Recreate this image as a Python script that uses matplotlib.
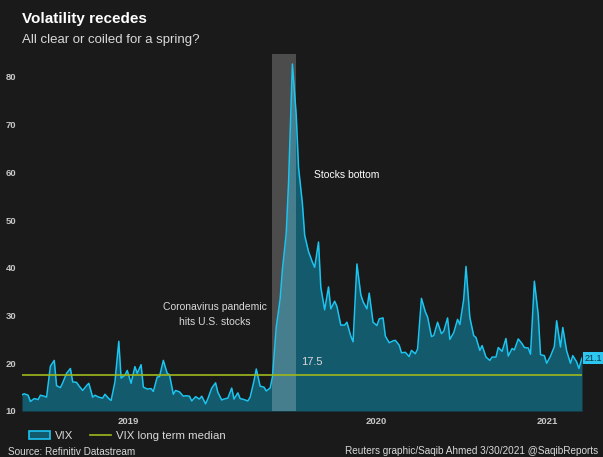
import matplotlib
matplotlib.use('Agg')
import matplotlib.pyplot as plt
from matplotlib.patches import Patch
from matplotlib.lines import Line2D
import numpy as np
import pandas as pd

#
# VIX closes read off the chart, sampled every third business day
# from 1 Apr 2019, plus the last reading on 30 Mar 2021
#
vix_2019 = [13.4, 13.6, 13.3, 12.0, 12.6, 12.4, 13.3, 13.1,          # Apr
            12.9, 19.4, 20.6, 15.3, 14.9, 15.9, 17.9,                # May
            18.9, 16.1, 16.0, 15.3, 14.3, 15.3, 15.8,                # Jun
            12.9, 13.3, 12.9, 12.7, 13.5, 12.6, 12.2, 16.1,          # Jul
            24.6, 16.9, 17.5, 18.5, 15.8, 19.3, 17.9,                # Aug
            19.7, 15.0, 14.6, 14.7, 14.1, 17.1, 17.2,                # Sep
            20.6, 17.9, 17.6, 13.5, 14.3, 14.0, 13.1, 13.2,          # Oct
            13.1, 12.1, 13.0, 12.5, 13.1, 11.5, 12.6,                # Nov
            14.8, 15.9, 13.9, 12.3, 12.5, 12.7, 14.8]                # Dec
vix_2020 = [12.5, 13.8, 12.6, 12.4, 12.1, 12.9, 16.3, 18.8,          # Jan
            15.2, 15.0, 14.2, 14.8, 17.1, 27.6,                      # Feb
            33.4, 39.6, 47.3, 57.8, 82.7, 72.0, 61.0, 53.5,          # Mar
            46.8, 43.4, 41.2, 40.1, 45.4, 35.9, 31.2,                # Apr
            36.0, 31.4, 33.0, 31.9, 28.0, 28.0, 28.6,                # May
            25.7, 24.5, 40.8, 34.4, 32.9, 31.4, 34.7,                # Jun
            28.6, 27.9, 29.3, 29.5, 25.7, 24.3, 24.7, 24.8,          # Jul
            23.8, 22.2, 22.3, 21.4, 22.7, 22.0, 23.0,                # Aug
            33.6, 30.8, 29.7, 25.6, 25.8, 28.6, 26.2,                # Sep
            26.7, 29.5, 25.0, 26.4, 29.2, 28.1, 33.4, 40.3,          # Oct
            29.6, 25.8, 25.4, 22.7, 23.7, 21.3, 20.6,                # Nov
            21.3, 21.3, 23.3, 22.5, 25.2, 21.5, 23.1]                # Dec
vix_2021 = [22.8, 25.1, 24.1, 23.3, 23.2, 21.9, 37.2,                # Jan
            30.2, 21.8, 21.6, 20.0, 21.5, 23.5, 28.9,                # Feb
            23.4, 27.5, 22.6, 20.0, 21.6, 20.3, 18.9]                # Mar
vix_last = 21.1
last_day = '2021-03-30'

median = 17.5
crash_start, crash_end = '2020-02-20', '2020-03-23'

yticks = [10, 20, 30, 40, 50, 60, 70, 80]
year_ticks = ['2019-08-17', '2020-07-05', '2021-02-13']
year_labels = ['2019', '2020', '2021']

vix = np.array(vix_2019 + vix_2020 + vix_2021 + [vix_last])
dates = pd.date_range('2019-04-01', periods=len(vix) - 1, freq='3B')
dates = dates.append(pd.DatetimeIndex([last_day]))

bg = '#1a1a1a'
fill_col = '#135a6d'
line_col = '#1cc4f0'
med_col = '#9fb81c'
txt_col = '#d9d9d9'

plt.rcParams['font.family'] = ['Liberation Sans', 'DejaVu Sans']

W, H = 603, 457
fig = plt.figure(figsize=(W/100, H/100), dpi=100, facecolor=bg)
ax = fig.add_axes([22/W, (H-411)/H, 560/W, (411-54)/H])
ax.set_facecolor(bg)

ax.fill_between(dates, 10, vix, color=fill_col, lw=0)
ax.plot(dates, vix, color=line_col, lw=1.1)
ax.axhline(median, color=med_col, lw=1.2)
ax.axvspan(pd.Timestamp(crash_start), pd.Timestamp(crash_end),
           color='white', alpha=0.22, lw=0)

ax.set_xlim(dates[0], dates[-1])
ax.set_ylim(10, 84.8)
for s in ax.spines.values():
    s.set_visible(False)

ax.set_yticks(yticks)
ax.set_yticklabels([str(t) for t in yticks])
ax.set_xticks(pd.to_datetime(year_ticks))
ax.set_xticklabels(year_labels)
ax.tick_params(length=0, colors='#c8c8c8', labelsize=6.8)
ax.tick_params(axis='y', pad=4)
ax.tick_params(axis='x', pad=4)
for lab in ax.get_xticklabels() + ax.get_yticklabels():
    lab.set_fontweight('bold')

# Annotations
ax.text(pd.Timestamp('2020-04-15'), 59.5, 'Stocks bottom', color='white',
        fontsize=7.5, va='center')
ax.text(pd.Timestamp('2019-12-08'), 30.3, 'Coronavirus pandemic\nhits U.S. stocks',
        color=txt_col, fontsize=7.5, ha='center', va='center', linespacing=1.6)
ax.text(pd.Timestamp('2020-03-29'), 20.3, '17.5', color=txt_col,
        fontsize=8, va='center')
ax.annotate('%.1f' % vix_last, xy=(dates[-1], vix_last), xytext=(1.5, 0),
            textcoords='offset points', va='center', ha='left',
            fontsize=6.5, color='#0b3440', annotation_clip=False,
            bbox=dict(boxstyle='square,pad=0.12', fc='#2cc6f0', ec='none'))

# Titles and footer
fig.text(22/W, 1 - 19/H, 'Volatility recedes', color='white', fontsize=11,
         fontweight='bold', va='center')
fig.text(22/W, 1 - 40/H, 'All clear or coiled for a spring?', color=txt_col,
         fontsize=9.5, va='center')
fig.text(8/W, 1 - 452/H, 'Source: Refinitiv Datastream', color=txt_col,
         fontsize=7.2, va='center')
fig.text(598/W, 1 - 451/H, 'Reuters graphic/Saqib Ahmed 3/30/2021 @SaqibReports',
         color=txt_col, fontsize=7.2, va='center', ha='right')

handles = [Patch(facecolor=fill_col, edgecolor=line_col, lw=1.2),
           Line2D([0], [0], color=med_col, lw=1.2)]
fig.legend(handles, ['VIX', 'VIX long term median'], loc='center left',
           bbox_to_anchor=(19/W, 1 - 436/H), ncol=2, frameon=False,
           fontsize=8.2, labelcolor=txt_col, handlelength=1.85,
           handletextpad=0.4, columnspacing=1.5)

fig.savefig('out.png', dpi=100, facecolor=bg)
